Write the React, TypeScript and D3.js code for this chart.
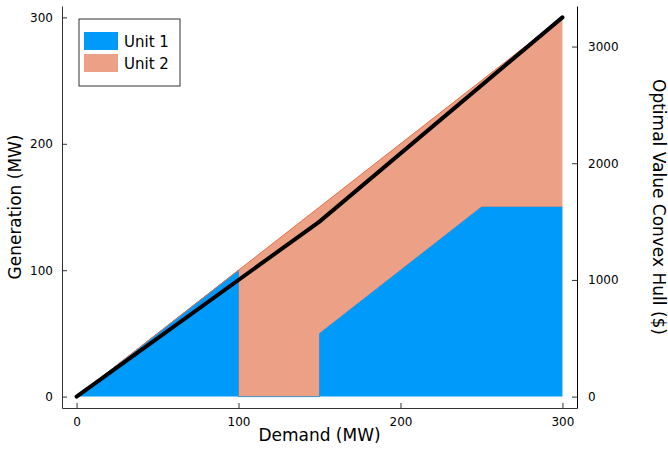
import React, { useRef, useEffect } from "react";
import * as d3 from "d3";

// breakpoints of the dispatch (MW)
const demand = [0, 100, 100, 150, 150, 250, 300];
const unit1 = [0, 100, 0, 0, 50, 150, 150];
const unit2 = [0, 0, 100, 150, 100, 100, 150];

// convex hull of the optimal value ($)
const hullDemand = [0, 150, 300];
const hullCost = [0, 1500, 3250];

const genTicks = [0, 100, 200, 300];
const costTicks = [0, 1000, 2000, 3000];
const demandTicks = [0, 100, 200, 300];

const seriesNames = ["Unit 1", "Unit 2"];

const App = () => {
  const svgRef = useRef<SVGSVGElement>(null);

  useEffect(() => {
    const svg = d3.select(svgRef.current);
    svg.selectAll("*").remove();
    const font = "DejaVu Sans, sans-serif";
    const plot = { left: 62, right: 577, top: 6, bottom: 408 };

    const x = d3.scaleLinear().domain([-9, 309]).range([plot.left, plot.right]);
    const y = d3.scaleLinear().domain([-9, 309]).range([plot.bottom, plot.top]);
    const y2 = d3.scaleLinear().domain([-97.5, 3347.5]).range([plot.bottom, plot.top]);

    const rows = demand.map((d, i) => ({ d, u1: unit1[i], u2: unit2[i] }));

    const area1 = d3
      .area<any>()
      .x((r) => x(r.d))
      .y0(() => y(0))
      .y1((r) => y(r.u1));
    const area2 = d3
      .area<any>()
      .x((r) => x(r.d))
      .y0((r) => y(r.u1))
      .y1((r) => y(r.u1 + r.u2));
    const line1 = d3.line<any>().x((r) => x(r.d)).y((r) => y(r.u1));
    const line2 = d3.line<any>().x((r) => x(r.d)).y((r) => y(r.u1 + r.u2));

    svg.append("path").datum(rows).attr("d", area1).attr("fill", "#009AFA");
    svg.append("path").datum(rows).attr("d", line1).attr("fill", "none")
      .attr("stroke", "#009AFA").attr("stroke-width", 1);
    svg.append("path").datum(rows).attr("d", area2).attr("fill", "#E26F46").attr("fill-opacity", 0.65);
    svg.append("path").datum(rows).attr("d", line2).attr("fill", "none")
      .attr("stroke", "#E26F46").attr("stroke-width", 1);

    // hull line on the right axis
    const hull = hullDemand.map((d, i) => ({ d, c: hullCost[i] }));
    const hullLine = d3.line<any>().x((r) => x(r.d)).y((r) => y2(r.c));
    svg.append("path").datum(hull).attr("d", hullLine).attr("fill", "none")
      .attr("stroke", "#000").attr("stroke-width", 4).attr("stroke-linecap", "round");

    // axes
    const axisColor = "#333";
    const gLeft = svg.append("g").attr("transform", `translate(${plot.left},0)`)
      .call(d3.axisLeft(y).tickValues(genTicks).tickSizeInner(-5).tickSizeOuter(0).tickPadding(9));
    const gRight = svg.append("g").attr("transform", `translate(${plot.right},0)`)
      .call(d3.axisRight(y2).tickValues(costTicks).tickFormat(d3.format("d")).tickSizeInner(-5).tickSizeOuter(0).tickPadding(11));
    const gBottom = svg.append("g").attr("transform", `translate(0,${plot.bottom})`)
      .call(d3.axisBottom(x).tickValues(demandTicks).tickSizeInner(-5).tickSizeOuter(0).tickPadding(9));

    [gLeft, gRight, gBottom].forEach((g) => {
      g.selectAll("text").style("font-family", font).style("font-size", "12px").attr("fill", "#000");
      g.selectAll("line").attr("stroke", axisColor);
      g.select(".domain").attr("stroke", axisColor);
    });
    gRight.select(".domain").attr("stroke", "#000");

    // axis titles
    svg.append("text").attr("x", x(150)).attr("y", 441).attr("text-anchor", "middle")
      .style("font-family", font).style("font-size", "17px").text("Demand (MW)");
    svg.append("text").attr("transform", `translate(21,${(plot.top + plot.bottom) / 2}) rotate(-90)`)
      .attr("text-anchor", "middle").style("font-family", font).style("font-size", "17px")
      .text("Generation (MW)");
    svg.append("text").attr("transform", `translate(653,${(plot.top + plot.bottom) / 2}) rotate(90)`)
      .attr("text-anchor", "middle").style("font-family", font).style("font-size", "17px")
      .text("Optimal Value Convex Hull ($)");

    // legend
    const legend = svg.append("g").attr("transform", "translate(79,19)");
    legend.append("rect").attr("width", 101).attr("height", 67).attr("fill", "#fff")
      .attr("stroke", "#333").attr("stroke-width", 1);
    const colors = ["#009AFA", "#E26F46"];
    const opac = [1, 0.65];
    seriesNames.forEach((name, i) => {
      legend.append("rect").attr("x", 5).attr("y", 13 + i * 22).attr("width", 34).attr("height", 18)
        .attr("fill", colors[i]).attr("fill-opacity", opac[i]);
      legend.append("text").attr("x", 45).attr("y", 28 + i * 22)
        .style("font-family", font).style("font-size", "15px").text(name);
    });
  }, []);

  return <svg ref={svgRef} width={668} height={451} style={{ position: "absolute", left: 0, top: 0 }}></svg>;
};

export default App;
